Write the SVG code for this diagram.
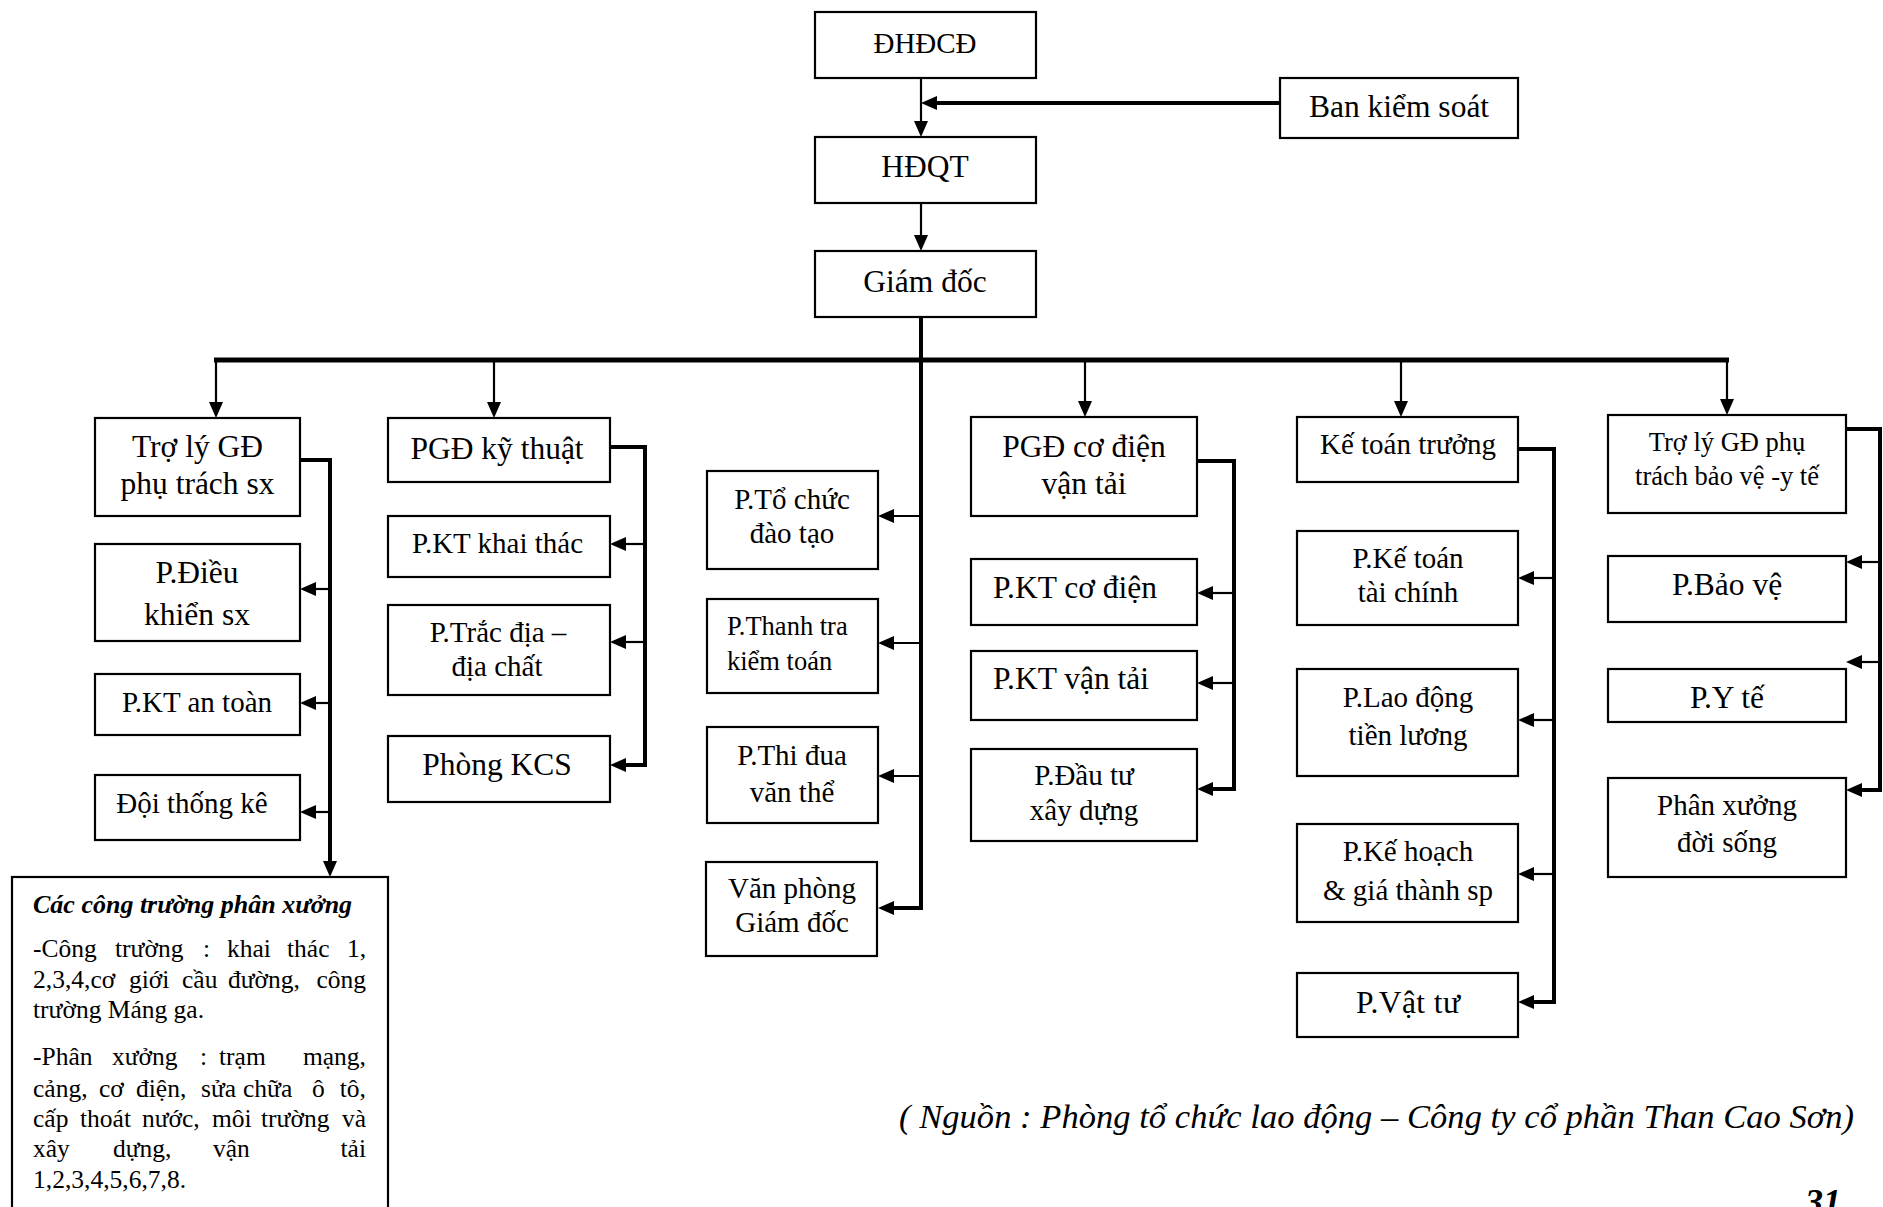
<svg xmlns="http://www.w3.org/2000/svg" width="1883" height="1207" viewBox="0 0 1883 1207">
<style>
text{font-family:"Liberation Serif","Times New Roman",serif;fill:#000}
.c{text-anchor:middle}
.e{text-anchor:end}
.f26{font-size:26.5px}.f29{font-size:29px}.f30{font-size:30px}.f31{font-size:31.5px}
.box{fill:#fff;stroke:#000;stroke-width:2.2}
.t{fill:none;stroke:#000;stroke-width:2.2;marker-end:url(#ah)}
.s{fill:none;stroke:#000;stroke-width:2.2}
.k{fill:none;stroke:#000;stroke-width:4}
.ka{fill:none;stroke:#000;stroke-width:4;marker-end:url(#ah)}
.bt{font-size:25.5px}
</style>
<defs>
<marker id="ah" viewBox="0 0 16 14" refX="6" refY="7" markerWidth="16" markerHeight="14" markerUnits="userSpaceOnUse" orient="auto">
<path d="M0,0 L16,7 L0,14 z" fill="#000"/>
</marker>
</defs>
<rect width="1883" height="1207" fill="#fff"/>

<g id="connectors">
<line class="t" x1="921" y1="78" x2="921" y2="127"/>
<line class="ka" x1="1280" y1="103" x2="931" y2="103"/>
<line class="t" x1="921" y1="203" x2="921" y2="241"/>
<path class="ka" d="M921,317 V908 H888"/>
<path class="t" d="M921,516 H888"/>
<path class="t" d="M921,643 H888"/>
<path class="t" d="M921,776 H888"/>
<line class="k" x1="214" y1="360" x2="1729" y2="360" style="stroke-width:5"/>
<path class="t" d="M216,360 V408"/>
<path class="t" d="M494,360 V408"/>
<path class="t" d="M1085,360 V407"/>
<path class="t" d="M1401,360 V407"/>
<path class="t" d="M1727,360 V405"/>
<path class="ka" d="M300,460 H330 V867"/>
<path class="t" d="M330,589 H310"/>
<path class="t" d="M330,703 H310"/>
<path class="t" d="M330,812 H310"/>
<path class="ka" d="M610,447 H645 V765 H620"/>
<path class="t" d="M645,544 H620"/>
<path class="t" d="M645,642 H620"/>
<path class="ka" d="M1197,461 H1234 V789 H1207"/>
<path class="t" d="M1234,593 H1207"/>
<path class="t" d="M1234,683 H1207"/>
<path class="ka" d="M1518,449 H1554 V1002 H1528"/>
<path class="t" d="M1554,578 H1528"/>
<path class="t" d="M1554,720 H1528"/>
<path class="t" d="M1554,874 H1528"/>
<path class="ka" d="M1846,429 H1880 V790 H1856"/>
<path class="t" d="M1880,562 H1856"/>
<path class="t" d="M1880,662 H1856"/>
</g>

<g id="n_dhdcd"><rect class="box" x="815" y="12" width="221" height="66"/><text class="c f29" x="925" y="53">ĐHĐCĐ</text></g>
<g id="n_bks"><rect class="box" x="1280" y="78" width="238" height="60"/><text class="c f31" x="1399" y="117">Ban kiểm soát</text></g>
<g id="n_hdqt"><rect class="box" x="815" y="137" width="221" height="66"/><text class="c f31" x="925" y="177">HĐQT</text></g>
<g id="n_gd"><rect class="box" x="815" y="251" width="221" height="66"/><text class="c f31" x="925" y="292">Giám đốc</text></g>

<g id="n_troly_sx"><rect class="box" x="95" y="418" width="205" height="98"/><text class="c f31" x="197.5" y="457">Trợ lý GĐ</text><text class="c f31" x="197.5" y="494">phụ trách sx</text></g>
<g id="n_dieukhien"><rect class="box" x="95" y="544" width="205" height="97"/><text class="c f31" x="197" y="583">P.Điều</text><text class="c f31" x="197" y="625">khiển sx</text></g>
<g id="n_antoan"><rect class="box" x="95" y="674" width="205" height="61"/><text class="c f29" x="197" y="712">P.KT an toàn</text></g>
<g id="n_thongke"><rect class="box" x="95" y="775" width="205" height="65"/><text class="c f29" x="192" y="813">Đội thống kê</text></g>

<g id="n_pgd_kt"><rect class="box" x="388" y="418" width="222" height="64"/><text class="c f31" x="497" y="459">PGĐ kỹ thuật</text></g>
<g id="n_kt_khaithac"><rect class="box" x="388" y="516" width="222" height="61"/><text class="c f29" x="497.5" y="553">P.KT khai thác</text></g>
<g id="n_tracdia"><rect class="box" x="388" y="605" width="222" height="90"/><text class="c f29" x="498" y="642">P.Trắc địa –</text><text class="c f29" x="497" y="676">địa chất</text></g>
<g id="n_kcs"><rect class="box" x="388" y="736" width="222" height="66"/><text class="c f31" x="497" y="775">Phòng KCS</text></g>

<g id="n_tochuc"><rect class="box" x="707" y="471" width="171" height="98"/><text class="c f29" x="792" y="509">P.Tổ chức</text><text class="c f29" x="792" y="543">đào tạo</text></g>
<g id="n_thanhtra"><rect class="box" x="707" y="599" width="171" height="94"/><text class="f26" x="727" y="635">P.Thanh tra</text><text class="f26" x="727" y="670">kiểm toán</text></g>
<g id="n_thidua"><rect class="box" x="707" y="727" width="171" height="96"/><text class="c f29" x="792" y="765">P.Thi đua</text><text class="c f29" x="792" y="802">văn thể</text></g>
<g id="n_vanphong"><rect class="box" x="706" y="862" width="171" height="94"/><text class="c f29" x="792" y="898">Văn phòng</text><text class="c f29" x="792" y="932">Giám đốc</text></g>

<g id="n_pgd_cd"><rect class="box" x="971" y="417" width="226" height="99"/><text class="c f31" x="1084" y="457">PGĐ cơ điện</text><text class="c f31" x="1084" y="494">vận tải</text></g>
<g id="n_kt_cd"><rect class="box" x="971" y="559" width="226" height="66"/><text class="f31" x="993" y="598">P.KT cơ điện</text></g>
<g id="n_kt_vt"><rect class="box" x="971" y="651" width="226" height="69"/><text class="f31" x="993" y="689">P.KT vận tải</text></g>
<g id="n_dautu"><rect class="box" x="971" y="749" width="226" height="92"/><text class="c f29" x="1084" y="785">P.Đầu tư</text><text class="c f29" x="1084" y="820">xây dựng</text></g>

<g id="n_ketoan_truong"><rect class="box" x="1297" y="417" width="221" height="65"/><text class="c f29" x="1408" y="454">Kế toán trưởng</text></g>
<g id="n_ketoan_tc"><rect class="box" x="1297" y="531" width="221" height="94"/><text class="c f29" x="1408" y="568">P.Kế toán</text><text class="c f29" x="1408" y="602">tài chính</text></g>
<g id="n_laodong"><rect class="box" x="1297" y="669" width="221" height="107"/><text class="c f29" x="1408" y="707">P.Lao động</text><text class="c f29" x="1408" y="745">tiền lương</text></g>
<g id="n_kehoach"><rect class="box" x="1297" y="824" width="221" height="98"/><text class="c f29" x="1408" y="861">P.Kế hoạch</text><text class="c f29" x="1408" y="900">&amp; giá thành sp</text></g>
<g id="n_vattu"><rect class="box" x="1297" y="973" width="221" height="64"/><text class="c f31" x="1408" y="1013" textLength="104">P.Vật tư</text></g>

<g id="n_troly_bv"><rect class="box" x="1608" y="415" width="238" height="98"/><text class="c f26" x="1727" y="451">Trợ lý GĐ phụ</text><text class="c f26" x="1727" y="485">trách bảo vệ -y tế</text></g>
<g id="n_baove"><rect class="box" x="1608" y="556" width="238" height="66"/><text class="c f31" x="1727" y="595">P.Bảo vệ</text></g>
<g id="n_yte"><rect class="box" x="1608" y="669" width="238" height="53"/><text class="c f31" x="1727" y="708">P.Y tế</text></g>
<g id="n_phanxuong"><rect class="box" x="1608" y="778" width="238" height="99"/><text class="c f29" x="1727" y="815">Phân xưởng</text><text class="c f29" x="1727" y="852">đời sống</text></g>

<g id="n_congtruong">
<rect class="box" x="12" y="877" width="376" height="345"/>
<text class="bt" x="33" y="913" style="font-weight:bold;font-style:italic;font-size:26px">Các công trường phân xưởng</text>
<text class="bt" y="957"><tspan x="33">-Công</tspan><tspan x="115">trường</tspan><tspan x="203">:</tspan><tspan x="227">khai</tspan><tspan x="287">thác</tspan></text>
<text class="bt e" x="366" y="957">1,</text>
<text class="bt" y="988"><tspan x="33">2,3,4,cơ</tspan><tspan x="129">giới</tspan><tspan x="182">cầu</tspan><tspan x="228">đường,</tspan></text>
<text class="bt e" x="366" y="988">công</text>
<text class="bt" x="33" y="1018">trường Máng ga.</text>
<text class="bt" y="1065"><tspan x="33">-Phân</tspan><tspan x="112">xưởng</tspan><tspan x="200">:</tspan><tspan x="219">trạm</tspan></text>
<text class="bt e" x="366" y="1065">mạng,</text>
<text class="bt" y="1097"><tspan x="33">cảng,</tspan><tspan x="99">cơ</tspan><tspan x="136">điện,</tspan><tspan x="201">sửa</tspan><tspan x="243">chữa</tspan><tspan x="312">ô</tspan></text>
<text class="bt e" x="366" y="1097">tô,</text>
<text class="bt" y="1127"><tspan x="33">cấp</tspan><tspan x="80">thoát</tspan><tspan x="142">nước,</tspan><tspan x="212">môi</tspan><tspan x="261">trường</tspan></text>
<text class="bt e" x="366" y="1127">và</text>
<text class="bt" y="1157"><tspan x="33">xây</tspan><tspan x="113">dựng,</tspan><tspan x="213">vận</tspan></text>
<text class="bt e" x="366" y="1157">tải</text>
<text class="bt" x="33" y="1188">1,2,3,4,5,6,7,8.</text>
</g>

<text x="899" y="1128" style="font-size:34.5px;font-style:italic" textLength="955">( Nguồn : Phòng tổ chức lao động – Công ty cổ phần Than Cao Sơn)</text>
<text x="1805" y="1214" style="font-size:36px;font-style:italic;font-weight:bold">31</text>
</svg>
